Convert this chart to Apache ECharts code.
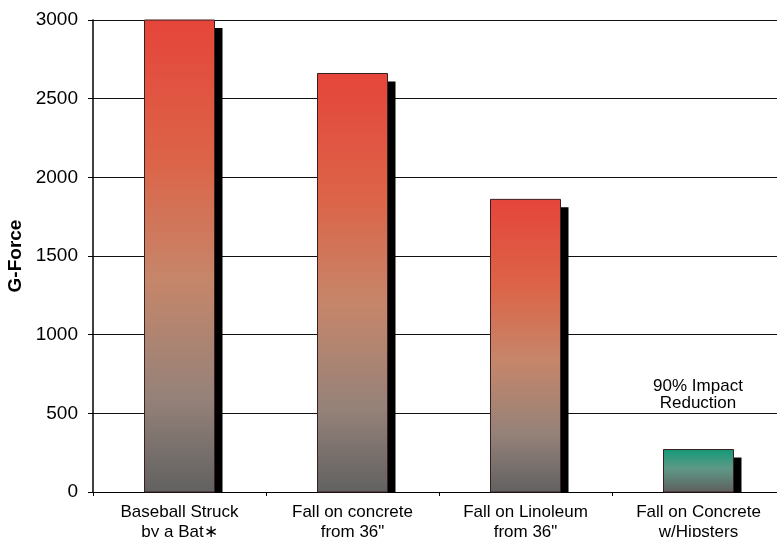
<!DOCTYPE html>
<html>
<head>
<meta charset="utf-8">
<script src="https://cdn.jsdelivr.net/npm/echarts@6/dist/echarts.min.js"></script>
<style>
  html, body { margin: 0; padding: 0; background: #fff; }
  #chart { width: 777px; height: 537px; }
</style>
</head>
<body>
<div id="chart"></div>
<script>
// data
var categories = ['Baseball Struck\nby a Bat\u2217', 'Fall on concrete\nfrom 36"', 'Fall on Linoleum\nfrom 36"', 'Fall on Concrete\nw/Hipsters'];
var gForce = [3000, 2660, 1860, 270];
var yTicks = [0, 500, 1000, 1500, 2000, 2500, 3000];

var redFill = [
	{ offset: 0, color: '#e5453a' },
	{ offset: 0.3, color: '#dc6448' },
	{ offset: 0.55, color: '#c6866a' },
	{ offset: 0.8, color: '#958279' },
	{ offset: 1, color: '#616161' }
];
var greenFill = [
	{ offset: 0, color: '#129a78' },
	{ offset: 0.45, color: '#5e9886' },
	{ offset: 1, color: '#5e5e5e' }
];

var font = 'Liberation Sans, Arial, sans-serif';
var myChart = echarts.init(document.getElementById('chart'));

var option = {
	animation: false,
	grid: { left: 93, top: 20, width: 692, height: 472, outerBoundsMode: 'none', containLabel: false },
	xAxis: {
		type: 'category',
		data: categories,
		axisLine: { lineStyle: { color: '#000', width: 1 } },
		axisTick: { show: true, length: 4, lineStyle: { color: '#000' } },
		axisLabel: {
			color: '#000', fontSize: 17, lineHeight: 20, margin: 10,
			fontFamily: font
		}
	},
	yAxis: {
		type: 'value',
		min: yTicks[0],
		max: yTicks[yTicks.length - 1],
		interval: 500,
		name: 'G-Force',
		nameLocation: 'middle',
		nameGap: 68,
		nameTextStyle: { color: '#000', fontSize: 19, fontWeight: 'bold', fontFamily: font },
		axisLine: { show: true, lineStyle: { color: '#000', width: 1.5 } },
		axisTick: { show: true, length: 5, lineStyle: { color: '#000' } },
		axisLabel: {
			color: '#000', fontSize: 19, margin: 15, fontFamily: font,
			formatter: function (v) { return String(v); }
		},
		splitLine: { lineStyle: { color: '#111', width: 1.2 } }
	},
	series: [
		{
			type: 'custom',
			data: gForce.map(function (v, i) { return [i, v]; }),
			encode: { x: 0, y: 1 },
			renderItem: function (params, api) {
				var idx = params.dataIndex;
				var top = api.coord([api.value(0), api.value(1)]);
				var base = api.coord([api.value(0), 0]);
				var w = 70;
				var x0 = top[0] - w / 2;
				var h = base[1] - top[1];
				var fill = idx === 3 ? greenFill : redFill;
				return {
					type: 'group',
					children: [
						{
							type: 'rect',
							shape: { x: x0 + w, y: top[1] + 8, width: 8, height: h - 8 },
							style: { fill: '#000' }
						},
						{
							type: 'rect',
							shape: { x: x0, y: top[1], width: w, height: h },
							style: {
								fill: new echarts.graphic.LinearGradient(0, 0, 0, 1, fill),
								stroke: '#3a2020',
								lineWidth: 1
							}
						}
					]
				};
			}
		}
	],
	graphic: [
		{
			type: 'text',
			x: 698,
			y: 378,
			style: {
				text: '90% Impact\nReduction',
				align: 'center',
				verticalAlign: 'top',
				fill: '#000',
				fontSize: 17,
				lineHeight: 17,
				fontFamily: font
			}
		}
	]
};

myChart.setOption(option);
</script>
</body>
</html>
